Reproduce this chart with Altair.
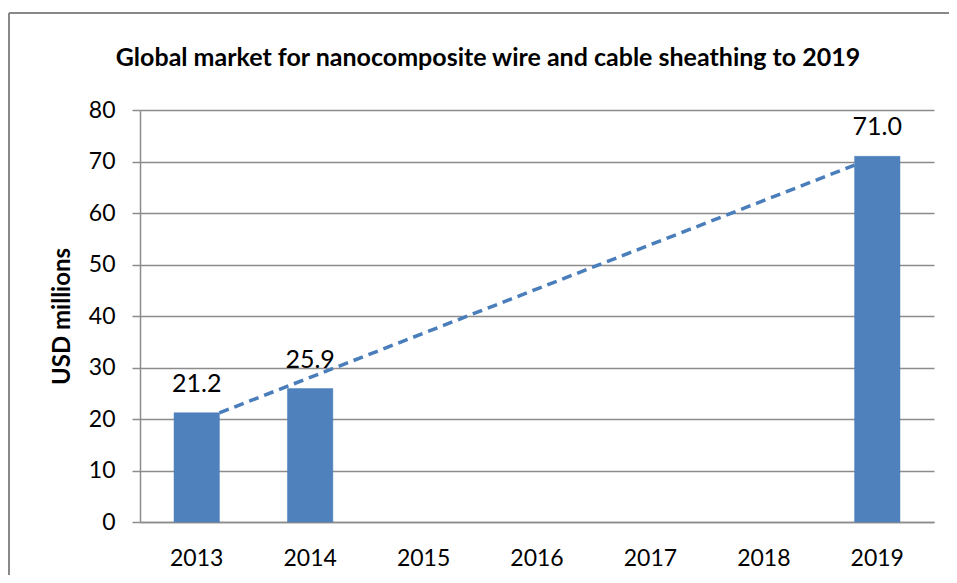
import altair as alt
import pandas as pd

# ---- data ----
all_years = ["2013", "2014", "2015", "2016", "2017", "2018", "2019"]
bar_years = ["2013", "2014", "2019"]
bar_values = [21.2, 25.9, 71.0]
bar_labels = ["21.2", "25.9", "71.0"]

# dashed trend line (year position, USD millions)
trend_x = [2013.2, 2018.8]
trend_y = [21.2, 69.3]

title_text = "Global market for nanocomposite wire and cable sheathing to 2019"
y_title = "USD millions"

bars_df = pd.DataFrame({"year": bar_years, "value": bar_values, "label": bar_labels})
trend_df = pd.DataFrame({"x": trend_x, "value": trend_y})

W, H = 794, 412
BLUE = "#4F81BD"
GRID = "#8C8C8C"
FONT = "Lato"

x_scale = alt.Scale(domain=all_years, paddingInner=0.6, paddingOuter=0.3)
x_band = alt.X(
    "year:N",
    scale=x_scale,
    axis=alt.Axis(
        title=None, labelAngle=0, ticks=False, labelPadding=25,
        labelFont=FONT, labelFontSize=23, labelColor="#000000",
        domainColor=GRID, domainWidth=1.5,
    ),
)
y_lin = alt.Y(
    "value:Q",
    scale=alt.Scale(domain=[0, 80]),
    axis=alt.Axis(
        title=y_title, values=[0, 10, 20, 30, 40, 50, 60, 70, 80],
        titleFont=FONT, titleFontSize=24, titleFontWeight="bold", titleColor="#000000",
        titlePadding=14,
        labelFont=FONT, labelFontSize=23, labelColor="#000000", labelPadding=17,
        tickSize=8, tickColor=GRID, tickWidth=1.5,
        domainColor=GRID, domainWidth=1.5,
        grid=True, gridColor=GRID, gridWidth=1.5,
    ),
)

bars = alt.Chart(bars_df).mark_bar(color=BLUE, stroke="#4A7DBA", strokeWidth=0.5).encode(
    x=x_band, y=y_lin
)
labels = alt.Chart(bars_df).mark_text(
    baseline="alphabetic", dy=-21, font=FONT, fontSize=25, color="#000000"
).encode(x=x_band, y=y_lin, text="label:N")

band_layer = alt.layer(bars, labels)

trend = alt.Chart(trend_df).mark_line(
    color="#4A7EBB", strokeWidth=3.5, strokeDash=[10, 6]
).encode(
    x=alt.X("x:Q", scale=alt.Scale(domain=[2012.5, 2019.5], nice=False, zero=False), axis=None),
    y=y_lin,
)

frame_left = alt.Chart(bars_df).mark_rule(color="#888888", strokeWidth=2).encode(
    x=alt.value(-131), y=alt.value(-97), y2=alt.value(470)
)
frame_top = alt.Chart(bars_df).mark_rule(color="#888888", strokeWidth=2).encode(
    x=alt.value(-131), x2=alt.value(809), y=alt.value(-97)
)

chart = alt.layer(band_layer, trend, frame_left, frame_top).resolve_scale(
    x="independent"
).properties(
    width=W, height=H,
    title=alt.TitleParams(
        title_text, font=FONT, fontSize=25, fontWeight="bold", color="#000000",
        anchor="middle", dx=-49, offset=-59,
    ),
    autosize=alt.AutoSizeParams(type="none"),
    padding={"left": 132, "top": 102, "right": 15, "bottom": 53},
).configure_view(stroke=None)

chart.save("out.html", embed_options={"renderer": "svg", "actions": False})
